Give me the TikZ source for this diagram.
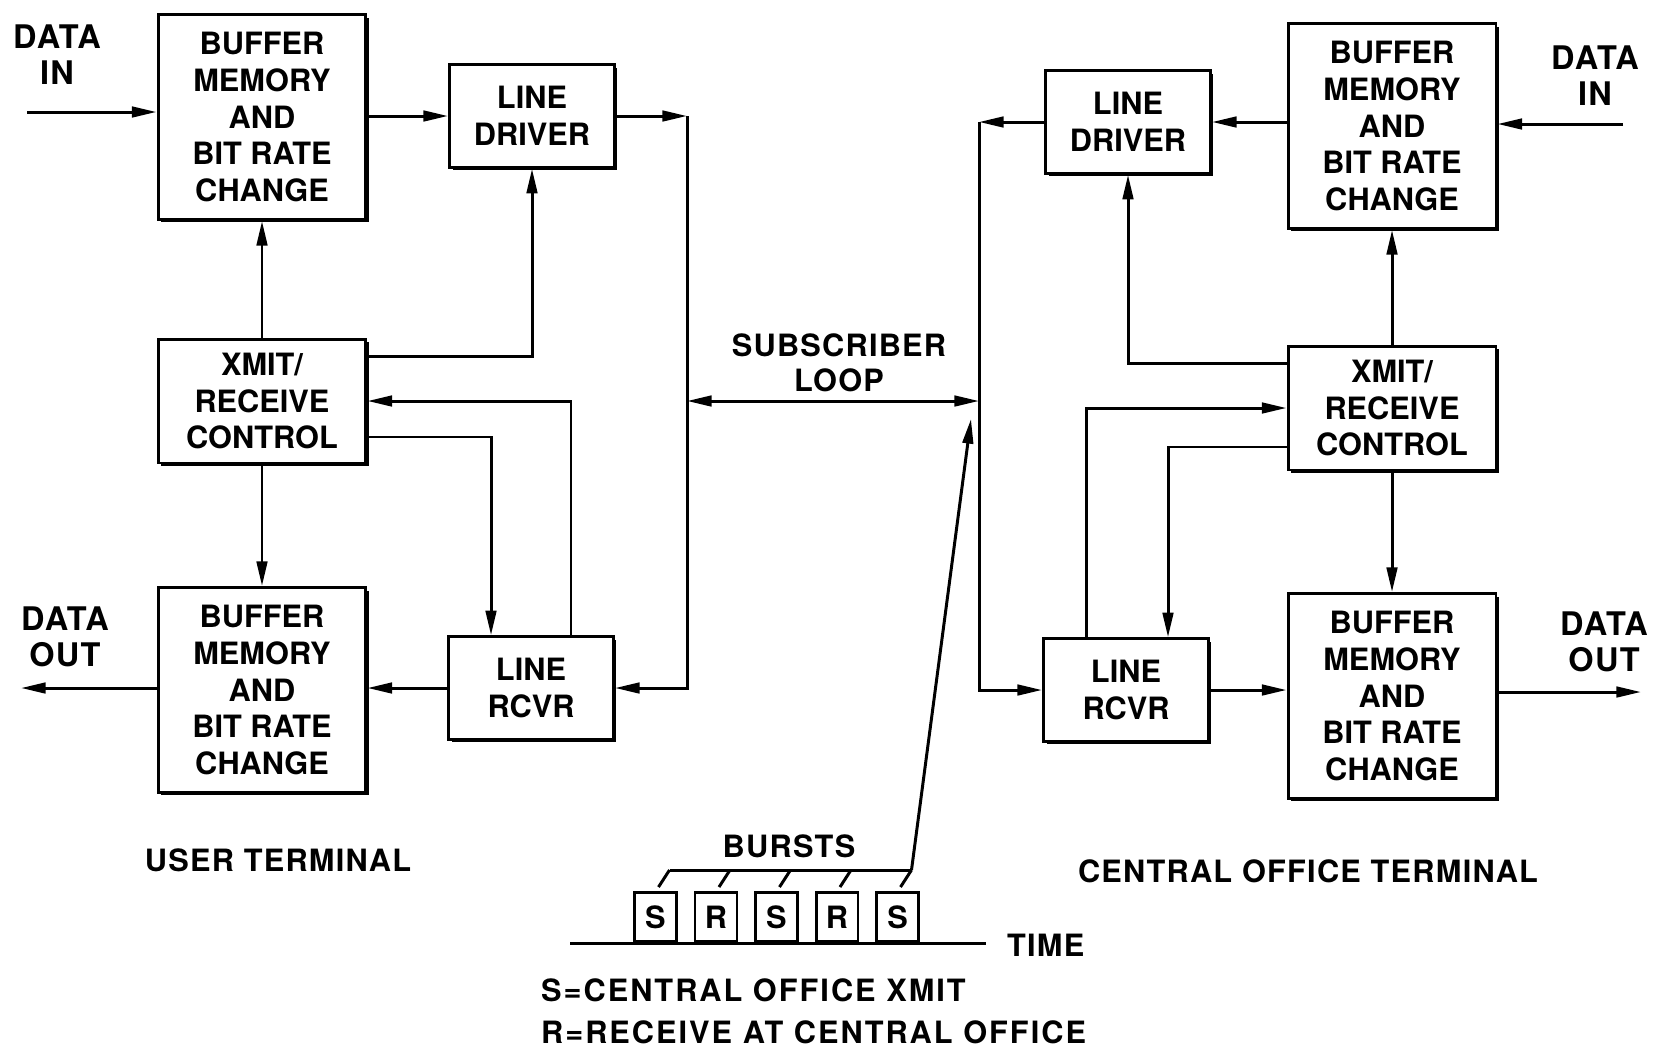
\documentclass[tikz,border=0pt]{standalone}
\usepackage{fontspec}
\setmainfont{TeX Gyre Heros}
\newfontfamily\lblfam[LetterSpace=4]{TeX Gyre Heros}
\newfontfamily\keyfam[LetterSpace=6.5]{TeX Gyre Heros}
\usetikzlibrary{arrows.meta, positioning, shadows}
\newcommand\blkfont{\fontsize{17.5}{21}\selectfont\bfseries}
\newcommand\lblfont{\lblfam\fontsize{17.5}{20}\selectfont\bfseries}
\newcommand\datafont{\lblfam\fontsize{18.5}{20.5}\selectfont\bfseries}
\newcommand\keyfont{\keyfam\fontsize{17.5}{20}\selectfont\bfseries}
\tikzset{
  blk/.style={draw, fill=white, line width=1.7pt, align=center, inner sep=2pt, font=\blkfont,
    drop shadow={opacity=1, fill=black, shadow xshift=1.7pt, shadow yshift=-1.7pt}},
  bufblk/.style={blk, minimum width=4.16cm, minimum height=4.1cm},
  ctlblk/.style={blk, minimum width=4.16cm, minimum height=2.48cm},
  lineblk/.style={blk, minimum width=3.3cm, minimum height=2.05cm},
  lbl/.style={align=center, inner sep=1pt, font=\lblfont},
  datalbl/.style={lbl, font=\datafont},
  keylbl/.style={anchor=west, inner sep=1pt, font=\keyfont},
  sig/.style={line width=1.7pt, ->},
  wire/.style={line width=1.7pt},
  slot/.style={draw, line width=1.7pt, minimum width=0.84cm, minimum height=0.98cm,
    inner sep=0pt, anchor=south west, font=\lblfont}
}

\begin{document}
\begin{tikzpicture}[x=0.02cm, y=-0.02cm, >={Triangle[length=14pt, width=6pt]}]
    \useasboundingbox (0,0) rectangle (1665,1059);

    % user terminal
    \node[bufblk] (bufTL) at (262,117) {BUFFER\\MEMORY\\AND\\BIT RATE\\CHANGE};
    \node[lineblk] (drvL) at (532,116) {LINE\\DRIVER};
    \node[ctlblk] (ctlL) at (262,401) {XMIT/\\RECEIVE\\CONTROL};
    \node[bufblk] (bufBL) at (262,690) {BUFFER\\MEMORY\\AND\\BIT RATE\\CHANGE};
    \node[lineblk] (rcvL) at (531,688) {LINE\\RCVR};

    % central office terminal
    \node[lineblk] (drvR) at (1128,122) {LINE\\DRIVER};
    \node[bufblk] (bufTR) at (1392,126) {BUFFER\\MEMORY\\AND\\BIT RATE\\CHANGE};
    \node[ctlblk] (ctlR) at (1392,408) {XMIT/\\RECEIVE\\CONTROL};
    \node[lineblk] (rcvR) at (1126,690) {LINE\\RCVR};
    \node[bufblk] (bufBR) at (1392,696) {BUFFER\\MEMORY\\AND\\BIT RATE\\CHANGE};

    \node[datalbl] (dinLlbl) at (57,55) {DATA\\IN};
    \node[datalbl] (doutLlbl) at (65,637) {DATA\\OUT};
    \node[datalbl] (dinRlbl) at (1595,76) {DATA\\IN};
    \node[datalbl] (doutRlbl) at (1604,642) {DATA\\OUT};
    \node[lbl] (looplbl) at (839,363) {SUBSCRIBER\\LOOP};
    \node[lbl] (userlbl) at (278,860) {USER TERMINAL};
    \node[lbl] (colbl) at (1308,871) {CENTRAL OFFICE TERMINAL};

    \coordinate (dInL) at (27,112);
    \coordinate (dOutL) at (21,688);
    \coordinate (dInR) at (1623,124);
    \coordinate (dOutR) at (1641,692);
    \coordinate (lpTL) at (687,116);
    \coordinate (lpBL) at (687,688);
    \coordinate (lpML) at (687,401);
    \coordinate (lpTR) at (979,122);
    \coordinate (lpBR) at (979,690);
    \coordinate (lpMR) at (979,401);

    % left side
    \draw[sig] (dInL) -- (dInL -| bufTL.west);
    \draw[sig] (bufTL.east |- drvL) -- (drvL.west);
    \draw[sig] (drvL.east) -- (lpTL);
    \draw[sig] (lpTL) -- (lpBL) -- (rcvL.east);
    \draw[sig] (ctlL.north) -- (bufTL.south);
    \draw[sig] ([yshift=0.9cm]ctlL.east) -| (drvL.south);
    \draw[sig] ([xshift=0.8cm]rcvL.north) |- (ctlL.east);
    \draw[sig] ([yshift=-0.72cm]ctlL.east) -| ([xshift=-0.8cm]rcvL.north);
    \draw[sig] (ctlL.south) -- (bufBL.north);
    \draw[sig] (rcvL.west) -- (rcvL.west -| bufBL.east);
    \draw[sig] (bufBL.west |- dOutL) -- (dOutL);

    % loop
    \draw[sig, <->] (lpML) -- (lpMR);

    % right side
    \draw[sig] (dInR) -- (dInR -| bufTR.east);
    \draw[sig] (bufTR.west |- drvR) -- (drvR.east);
    \draw[sig] (drvR.west) -- (lpTR);
    \draw[sig] (lpTR) -- (lpBR) -- (rcvR.west);
    \draw[sig] (ctlR.north) -- (bufTR.south);
    \draw[sig] ([yshift=0.9cm]ctlR.west) -| (drvR.south);
    \draw[sig] ([xshift=-0.8cm]rcvR.north) |- (ctlR.west);
    \draw[sig] ([yshift=-0.78cm]ctlR.west) -| ([xshift=0.84cm]rcvR.north);
    \draw[sig] (ctlR.south) -- (bufBR.north);
    \draw[sig] (rcvR.east) -- (rcvR.east -| bufBR.west);
    \draw[sig] (bufBR.east |- dOutR) -- (dOutR);

    % bursts on the time axis
    \draw[wire] (570,943) -- (986,943);
    \node[lbl, anchor=west] (timelbl) at (1005,945) {TIME};
    \foreach \t [count=\i] in {S,R,S,R,S}
        \node[slot] (slot\i) at ({633+60.5*(\i-1)},943) {\t};
    \foreach \i in {1,...,5}
        \draw[wire] ([xshift=0.06cm, yshift=0.08cm]slot\i.north) -- ++(11,-17) coordinate (tk\i);
    \draw[wire] (tk1) -- (tk5);
    \coordinate (burstTip) at (971,419);
    \draw[sig] (tk5) -- (burstTip);
    \node[lbl] (burstlbl) at (789,846) {BURSTS};
    \node[keylbl] (keyS) at (539,990) {S=CENTRAL OFFICE XMIT};
    \node[keylbl] (keyR) at (539,1032) {R=RECEIVE AT CENTRAL OFFICE};
\end{tikzpicture}
\end{document}
